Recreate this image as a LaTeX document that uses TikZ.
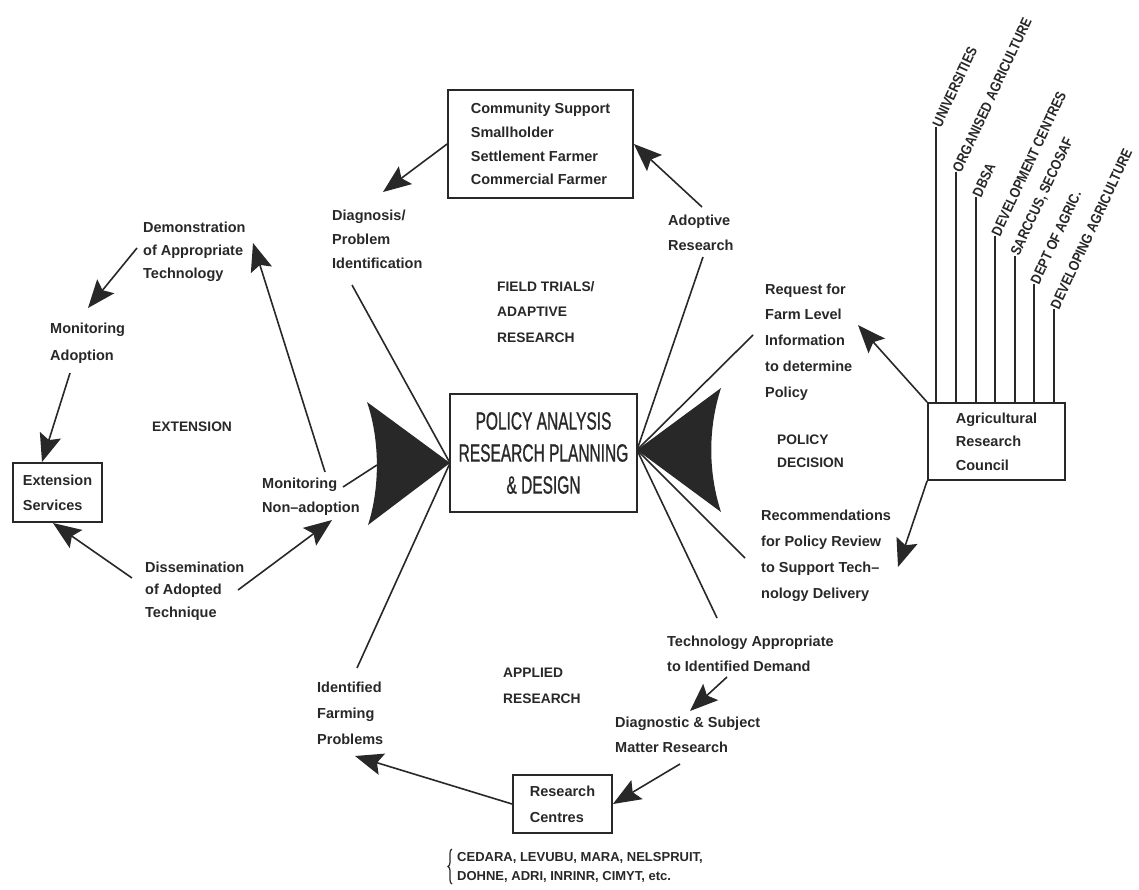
\documentclass[tikz,border=0pt]{standalone}
\usepackage{fontspec}
\setmainfont{Liberation Sans}
\newfontfamily\condfont{Liberation Sans}[FakeStretch=0.62,FakeBold=0.8]
\newfontfamily\narrowfont{Liberation Sans}[FakeStretch=0.85]
\usetikzlibrary{arrows.meta,decorations.pathreplacing}
\definecolor{ink}{RGB}{40,40,40}
\tikzset{
  lbl/.style={anchor=north west, inner sep=0pt, align=left, text=ink,
    font=\fontsize{14.5}{#1}\selectfont\bfseries},
  lbl/.default=25,
  hdr/.style={anchor=north west, inner sep=0pt, align=left, text=ink,
    font=\fontsize{13.8}{#1}\selectfont\bfseries},
  hdr/.default=25.5,
  boxed/.style={draw=ink, line width=1.8pt, align=left, inner sep=0pt, text=ink,
    font=\fontsize{14.5}{#1}\selectfont\bfseries},
  boxed/.default=24,
  conn/.style={draw=ink, line width=1.6pt},
  arr/.style={conn, -{Stealth[length=28pt,width=22pt,inset=5pt]}},
  rot/.style={anchor=west, inner sep=1pt, rotate=65, text=ink,
    font=\fontsize{14.6}{16}\narrowfont\bfseries},
}
\begin{document}
\begin{tikzpicture}[x=1pt, y=-1pt]
\fill[white] (0,0) rectangle (1139,889);
\useasboundingbox (0,0) rectangle (1139,889);

% boxes
\node[boxed=23.7, minimum width=185pt, minimum height=108pt] (cs) at (540.5,144)
  {Community Support\\Smallholder\\Settlement Farmer\\Commercial Farmer};
\node[draw=ink, line width=1.8pt, minimum width=187pt, minimum height=118pt, inner sep=0pt,
  align=center, text=ink, font=\fontsize{25}{32}\condfont] (pol) at (543.5,453)
  {POLICY ANALYSIS\\RESEARCH PLANNING\\\& DESIGN};
\node[boxed=25, minimum width=89pt, minimum height=59pt] (ext) at (57.5,492.5)
  {Extension\\Services};
\node[boxed=23.5, minimum width=137pt, minimum height=77pt] (arc) at (996.5,441.5)
  {Agricultural\\Research\\Council};
\node[boxed=26, minimum width=99pt, minimum height=58pt] (rc) at (562.5,804)
  {Research\\Centres};

% labels
\node[lbl=24] (diag) at (332,209.5) {Diagnosis/\\Problem\\Identification};
\node[lbl=25] (adopt) at (668,214.5) {Adoptive\\Research};
\node[hdr] (field) at (497,281) {FIELD TRIALS/\\ADAPTIVE\\RESEARCH};
\node[lbl=23] (demo) at (143,221.5) {Demonstration\\of Appropriate\\Technology};
\node[lbl=27] (monad) at (50,322.5) {Monitoring\\Adoption};
\node[hdr] (exth) at (152,422) {EXTENSION};
\node[lbl=24] (monnon) at (262,477.5) {Monitoring\\Non--adoption};
\node[lbl=22.5] (dissem) at (145,561.5) {Dissemination\\of Adopted\\Technique};
\node[lbl=25.75] (req) at (765,283.5) {Request for\\Farm Level\\Information\\to determine\\Policy};
\node[hdr=23] (poldec) at (777,435) {POLICY\\DECISION};
\node[lbl=26] (recomm) at (761,509.5) {Recommendations\\for Policy Review\\to Support Tech--\\nology Delivery};
\node[lbl=25] (techapp) at (667,635.5) {Technology Appropriate\\to Identified Demand};
\node[lbl=25] (diagsub) at (615,716.5) {Diagnostic \& Subject\\Matter Research};
\node[hdr] (applied) at (503,668) {APPLIED\\RESEARCH};
\node[lbl=26] (ifp) at (317,681.5) {Identified\\Farming\\Problems};
\node[anchor=north west, inner sep=0pt, align=left, text=ink,
  font=\fontsize{13}{19}\selectfont\bfseries] (centres) at (457,852)
  {CEDARA, LEVUBU, MARA, NELSPRUIT,\\DOHNE, ADRI, INRINR, CIMYT, etc.};
\draw[draw=ink, line width=1.2pt, decorate, decoration={brace, amplitude=4pt}]
  (452,884) -- (452,849);

% rotated member labels
\node[rot] (m1) at (936,127) {UNIVERSITIES};
\node[rot] (m2) at (956,172) {ORGANISED AGRICULTURE};
\node[rot] (m3) at (976,197) {DBSA};
\node[rot] (m4) at (995,236) {DEVELOPMENT CENTRES};
\node[rot] (m5) at (1015,256) {SARCCUS, SECOSAF};
\node[rot] (m6) at (1034,284) {DEPT OF AGRIC.};
\node[rot] (m7) at (1054,309) {DEVELOPING AGRICULTURE};
\foreach \m in {m1,m2,m3,m4,m5,m6,m7}
  \draw[conn] (\m.west) -- (\m.west |- arc.north);

% big arrowheads
\coordinate (ltip) at (450,463);
\coordinate (lback) at (377,465);
\coordinate (rtip) at (637,450);
\fill[ink] (ltip) -- (367,402) .. controls (380,440) and (380,488) .. (368,525) -- cycle;
\fill[ink] (rtip) -- (721,388) .. controls (708,428) and (708,472) .. (721,512) -- cycle;

% connector end points
\coordinate (t1) at (383,192);
\coordinate (s2) at (702,207);
\coordinate (s3) at (137,248);  \coordinate (t3) at (88,308);
\coordinate (s4) at (70,373);   \coordinate (t4) at (42,462);
\coordinate (s5) at (132,578);  \coordinate (t5) at (53,523);
\coordinate (s6) at (238,590);  \coordinate (t6) at (332,520);
\coordinate (s7) at (325,472);  \coordinate (t7) at (253,243);
\coordinate (t8) at (355,756);
\coordinate (s9) at (680,764);
\coordinate (s10) at (727,677); \coordinate (t10) at (690,711);
\coordinate (t11) at (858,325);
\coordinate (t12) at (898,567);
\coordinate (p1) at (343,487);
\coordinate (p2) at (352,285);
\coordinate (p3) at (357,668);
\coordinate (p4) at (703,257);
\coordinate (p5) at (753,335);
\coordinate (p6) at (745,558);
\coordinate (p7) at (717,618);

% arrows
\draw[arr] (cs.west) -- (t1);
\draw[arr] (s2) -- (cs.east);
\draw[arr] (s3) -- (t3);
\draw[arr] (s4) -- (t4);
\draw[arr] (s5) -- (t5);
\draw[arr] (s6) -- (t6);
\draw[arr] (s7) -- (t7);
\draw[arr] (rc.west) -- (t8);
\draw[arr] (s9) -- (rc.east);
\draw[arr] (s10) -- (t10);
\draw[arr] (arc.north west) -- (t11);
\draw[arr] (arc.south west) -- (t12);

% plain lines into the central box
\draw[conn] (p1) -- (lback);
\draw[conn] (p2) -- (ltip);
\draw[conn] (p3) -- (ltip);
\draw[conn] (p4) -- (rtip);
\draw[conn] (p5) -- (rtip);
\draw[conn] (p6) -- (rtip);
\draw[conn] (p7) -- (rtip);
\end{tikzpicture}
\end{document}
